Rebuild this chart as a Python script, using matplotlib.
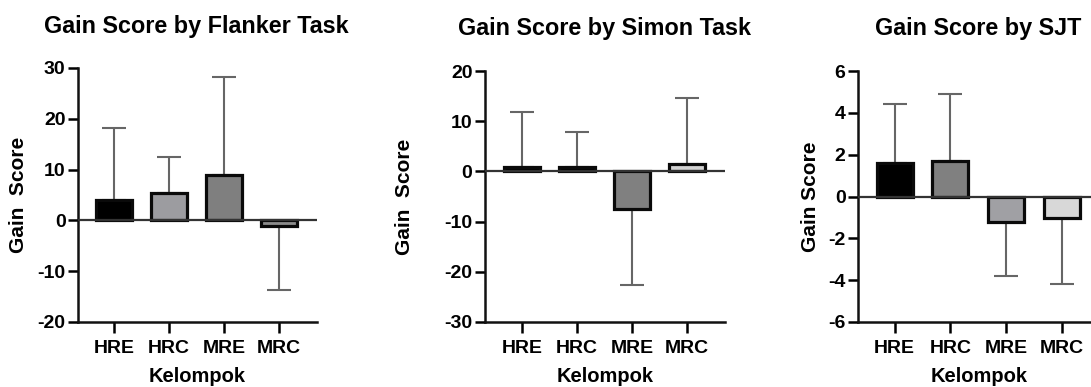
import matplotlib.pyplot as plt

plt.rcParams['font.family'] = ['Liberation Sans', 'DejaVu Sans']
plt.rcParams['font.weight'] = 'bold'
plt.rcParams['axes.unicode_minus'] = False

# Data
kelompok = ["HRE", "HRC", "MRE", "MRC"]

flanker_mean = [4.1, 5.3, 9.0, -1.2]
flanker_err = [14.0, 7.1, 19.2, 12.5]
flanker_warna = ["#000000", "#9c9ca0", "#7f7f7f", "#8c8c8c"]

simon_mean = [0.8, 0.8, -7.4, 1.5]
simon_err = [11.0, 7.0, 15.3, 13.2]
simon_warna = ["#000000", "#000000", "#808080", "#d2d2d2"]

sjt_mean = [1.6, 1.7, -1.2, -1.05]
sjt_err = [2.8, 3.2, 2.6, 3.15]
sjt_warna = ["#000000", "#808080", "#a0a0a4", "#d8d8d8"]

W, H = 1091, 387
fig = plt.figure(figsize=(W / 100, H / 100), dpi=100)


def panel(kiri, kanan, atas, bawah, xlim, ylim, yticks, mean, err, warna,
          ylabel, judul, judul_x, judul_y, ylabel_x):
    ax = fig.add_axes([kiri / W, 1 - bawah / H, (kanan - kiri) / W, (bawah - atas) / H])
    x = range(len(mean))
    for i in x:
        m = mean[i]
        e = err[i]
        ylo = [0] if m >= 0 else [e]
        yhi = [e] if m >= 0 else [0]
        ax.errorbar([i], [m], yerr=[ylo, yhi], fmt='none', ecolor='#666666',
                    elinewidth=1.5, capsize=8.5, capthick=1.5, zorder=1)
    ax.bar(list(x), mean, width=0.65, color=warna, edgecolor='#0a0a0a',
           linewidth=2.3, zorder=2)
    ax.axhline(0, color='#333333', linewidth=1.6, zorder=3)
    ax.set_xlim(*xlim)
    ax.set_ylim(*ylim)
    ax.set_yticks(yticks)
    ax.set_xticks(list(x))
    ax.set_xticklabels(kelompok)
    for s in ['top', 'right']:
        ax.spines[s].set_visible(False)
    for s in ['left', 'bottom']:
        ax.spines[s].set_linewidth(1.8)
        ax.spines[s].set_color('#111111')
    ax.tick_params(axis='y', length=7, width=1.8, labelsize=14, pad=2)
    ax.tick_params(axis='x', length=8, width=1.8, labelsize=14, pad=5)
    for lab in ax.get_xticklabels() + ax.get_yticklabels():
        lab.set_fontweight('bold')
    ax.set_xlabel("Kelompok", fontsize=14.5, fontweight='bold', labelpad=7)
    fig.text(ylabel_x / W, 1 - ((atas + bawah) / 2) / H, ylabel, rotation=90,
             fontsize=15, fontweight='bold', ha='center', va='center')
    fig.text(judul_x / W, 1 - judul_y / H, judul, fontsize=16.8,
             fontweight='bold', ha='center', va='center')
    return ax


panel(78, 317, 68, 322, (-0.65, 3.69), (-20, 30), [-20, -10, 0, 10, 20, 30],
      flanker_mean, flanker_err, flanker_warna, "Gain  Score",
      "Gain Score by Flanker Task", 196, 26, 19)
panel(485, 725, 71, 322, (-0.67, 3.69), (-30, 20), [-30, -20, -10, 0, 10, 20],
      simon_mean, simon_err, simon_warna, "Gain  Score",
      "Gain Score by Simon Task", 604, 29, 404)
panel(858, 1100, 71, 322, (-0.66, 3.69), (-6, 6), [-6, -4, -2, 0, 2, 4, 6],
      sjt_mean, sjt_err, sjt_warna, "Gain Score",
      "Gain Score by SJT", 978, 29, 811)

fig.savefig("out.png", dpi=100)
